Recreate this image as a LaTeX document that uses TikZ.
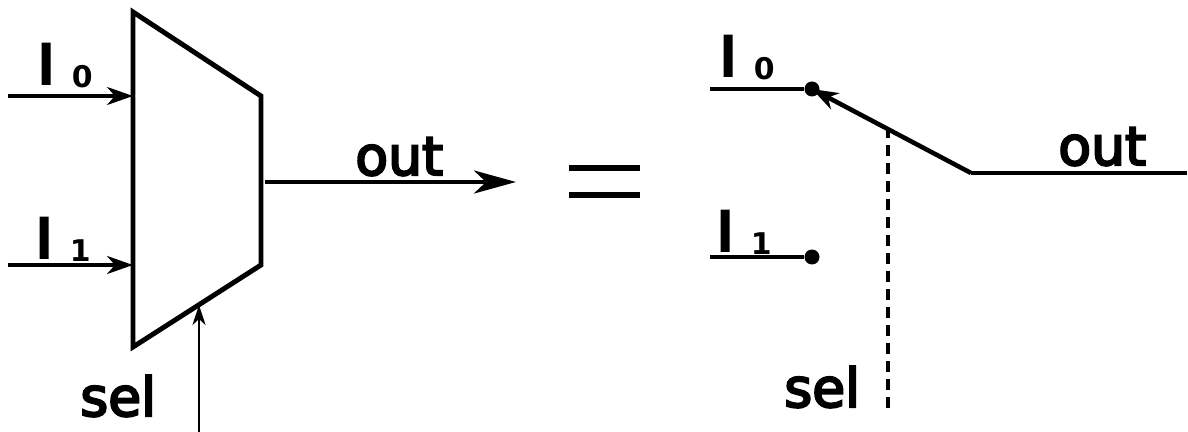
\documentclass[tikz,border=0pt]{standalone}
\usepackage{fontspec}
\usepackage{tikz}
\usetikzlibrary{arrows.meta}
\newfontfamily\wirefont[RawFeature={embolden=4}]{DejaVu Sans}
\newfontfamily\inputfont[RawFeature={embolden=7}]{DejaVu Sans}
\newfontfamily\digitfont[BoldFont={DejaVu Sans Bold}]{DejaVu Sans}
\newcommand{\inlabel}[1]{{\inputfont\fontsize{30}{30}\selectfont I}\hspace{0.36cm}\raisebox{-0.1cm}{\digitfont\bfseries\fontsize{17}{17}\selectfont #1}}

\begin{document}
\begin{tikzpicture}[x=0.02cm, y=-0.02cm,
    every node/.style={inner sep=0pt},
    wirelabel/.style={anchor=base west, font=\wirefont\fontsize{30.5}{30.5}\selectfont},
    inputlabel/.style={anchor=base west},
    contact/.style={circle, fill=black, minimum size=0.3cm},
    thinarrow/.style={-{Stealth[length=0.52cm, width=0.36cm, inset=0.16cm]}, line width=2.1pt},
    selarrow/.style={-{Stealth[length=0.4cm, width=0.26cm, inset=0.12cm]}, line width=1.6pt},
    thickarrow/.style={-{Stealth[length=0.84cm, width=0.46cm, inset=0.24cm]}, line width=2.6pt}]
    \useasboundingbox (0,0) rectangle (1188,432);

    % multiplexer
    \coordinate (topleft) at (133,12);
    \coordinate (topright) at (261,96);
    \coordinate (botright) at (261,265);
    \coordinate (botleft) at (133,347);
    \draw[line width=2.8pt, line join=miter] (topleft) -- (topright) -- (botright) -- (botleft) -- cycle;

    \coordinate (muxin0) at (133,96);
    \coordinate (muxin1) at (133,265);
    \coordinate (muxsel) at (199,305);
    \coordinate (muxout) at (265,182);
    \coordinate (start0) at (8,96);
    \coordinate (start1) at (8,265);
    \coordinate (startsel) at (199,432);
    \coordinate (end) at (516,182);
    \draw[thinarrow] (start0) -- (muxin0);
    \draw[thinarrow] (start1) -- (muxin1);
    \draw[selarrow] (startsel) -- (muxsel);
    \draw[thickarrow] (muxout) -- (end);

    \node[inputlabel] (labelin0) at (38,83) {\inlabel{0}};
    \node[inputlabel] (labelin1) at (36,257) {\inlabel{1}};
    \node[wirelabel] (labelsel) at (80,416) {sel};
    \node[wirelabel] (labelout) at (355,175) {out};

    % equals sign
    \coordinate (eqa) at (569,168);
    \coordinate (eqb) at (640,168);
    \coordinate (eqc) at (569,195);
    \coordinate (eqd) at (640,195);
    \draw[line width=2.9pt] (eqa) -- (eqb);
    \draw[line width=2.9pt] (eqc) -- (eqd);

    % switch
    \node[contact] (contact0) at (812,89) {};
    \node[contact] (contact1) at (812,257) {};
    \coordinate (wire0) at (710,89);
    \coordinate (wire1) at (710,257);
    \coordinate (pivot) at (971,173);
    \coordinate (outend) at (1187,173);
    \coordinate (linkend) at (888,129);
    \coordinate (linkstart) at (888,408);
    \draw[line width=1.9pt] (wire0) -- (contact0);
    \draw[line width=1.9pt] (wire1) -- (contact1);
    \draw[line width=2pt] (pivot) -- (outend);
    \draw[thinarrow, line width=2.6pt] (pivot) -- (contact0.center);
    \draw[line width=2.2pt, dash pattern=on 0.22cm off 0.14cm] (linkstart) -- (linkend);

    \node[inputlabel] (labelsw0) at (720,75) {\inlabel{0}};
    \node[inputlabel] (labelsw1) at (717,250) {\inlabel{1}};
    \node[wirelabel] (labelswsel) at (784,407) {sel};
    \node[wirelabel] (labelswout) at (1058,165) {out};
  \end{tikzpicture}
\end{document}
